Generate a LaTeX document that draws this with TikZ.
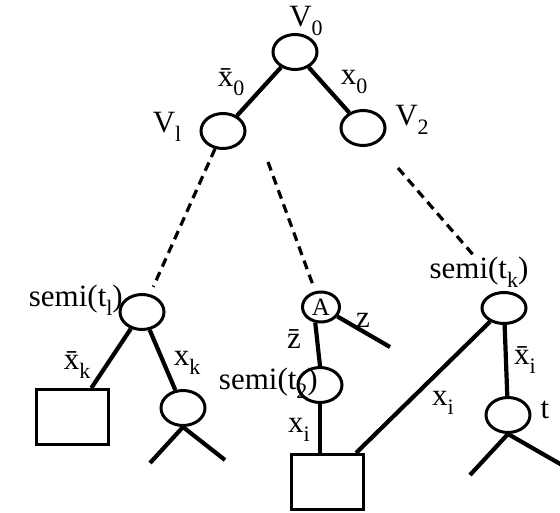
\documentclass[tikz,border=0pt]{standalone}
\usepackage{fontspec}
\setmainfont{Liberation Serif}
\usetikzlibrary{shapes.geometric}
\newcommand{\lowsub}[1]{\raisebox{-0.28em}{\fontsize{22}{22}\selectfont #1}}

\begin{document}
\begin{tikzpicture}[x=1pt,y=-1pt,
  vert/.style={ellipse,draw,line width=3pt,minimum width=44pt,minimum height=35pt,inner sep=0pt},
  leaf/.style={rectangle,draw,line width=3pt,minimum width=72pt,minimum height=55pt},
  edge/.style={line width=4.2pt},
  dedge/.style={line width=3.2pt,dash pattern=on 9pt off 6pt},
  lbl/.style={font=\fontsize{31}{33}\selectfont,inner sep=0pt}]

\useasboundingbox (0,0) rectangle (560,513);

% Top of the tree
\node[vert] (v0) at (295,52) {};
\node[vert] (v1) at (223,131) {};
\node[vert] (v2) at (363,128) {};
\draw[edge] (v0) -- (v1);
\draw[edge] (v0) -- (v2);
\node[lbl] (v0lbl) at (306,21) {V\lowsub{0}};
\node[lbl] (v1lbl) at (167,127) {V\lowsub{l}};
\node[lbl] (v2lbl) at (412,120) {V\lowsub{2}};
\node[lbl] (x0bar) at (231,82) {\=x\lowsub{0}};
\node[lbl] (x0) at (354,82) {x\lowsub{0}};

% Paths further down
\coordinate (m1) at (268,162);
\coordinate (r1) at (398,168);
\coordinate (r2) at (475,257);

% Left subtree
\node[vert] (s1) at (142,312) {};
\node[leaf] (b1) at (72,417) {};
\node[vert] (c1) at (183,408) {};
\coordinate (c1l) at (150,463);
\coordinate (c1r) at (225,460);
\draw[dedge,shorten >=8pt] (v1) -- (s1);
\draw[edge] (s1) -- (b1);
\draw[edge] (s1) -- (c1);
\draw[edge] (c1.south) -- (c1l);
\draw[edge] (c1.south) -- (c1r);
\node[lbl,anchor=east] (s1lbl) at (123,300) {semi(t\lowsub{l})};
\node[lbl] (xkbar) at (77,365) {\=x\lowsub{k}};
\node[lbl] (xk) at (187,363) {x\lowsub{k}};

% Middle subtree
\node[vert,minimum width=37pt,minimum height=30pt,font=\fontsize{25}{27}\selectfont] (a) at (321,307) {A};
\coordinate (zend) at (390,347);
\node[vert] (s2) at (320,385) {};
\node[leaf] (b2) at (327,482) {};
\draw[dedge,shorten >=6pt] (m1) -- (a);
\draw[edge] (a) -- (zend);
\draw[edge] (a.250) -- (s2.north);
\draw[edge] (s2.south) -- (b2.north -| s2.south);
\node[lbl] (zlbl) at (363,320) {z};
\node[lbl] (zbar) at (294,339) {\=z};
\node[lbl,anchor=east] (s2lbl) at (318,383) {semi(t\lowsub{2})};
\node[lbl] (xi1) at (299,430) {x\lowsub{i}};

% Right subtree
\node[vert,minimum height=31pt] (sk) at (504,308) {};
\node[vert] (tn) at (508,415) {};
\coordinate (tnl) at (470,475);
\coordinate (tnr) at (562,465);
\draw[dedge] (r1) -- (r2);
\draw[edge] (b2.45) -- (sk);
\draw[edge] (sk) -- (tn);
\draw[edge] (tn.south) -- (tnl);
\draw[edge] (tn.south) -- (tnr);
\node[lbl] (sklbl) at (479,272) {semi(t\lowsub{k})};
\node[lbl] (xi2) at (443,403) {x\lowsub{i}};
\node[lbl] (xibar) at (525,360) {\=x\lowsub{i}};
\node[lbl] (tlbl) at (545,410) {t};

\end{tikzpicture}
\end{document}
